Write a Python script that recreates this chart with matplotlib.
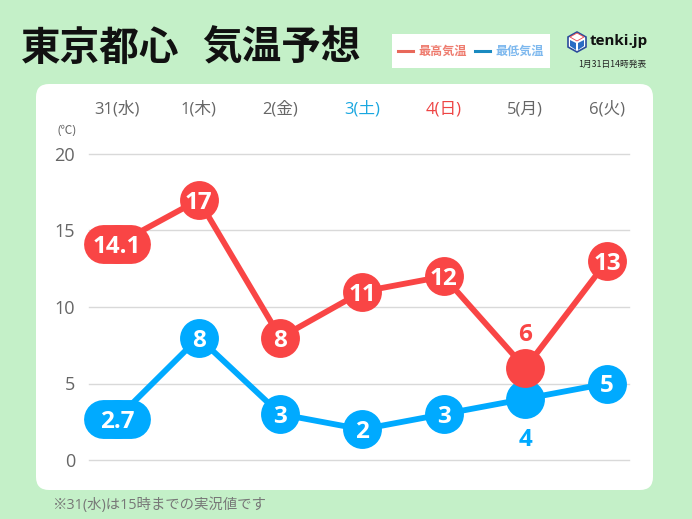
import matplotlib
matplotlib.use('Agg')
from matplotlib import pyplot as plt
from matplotlib.patches import FancyBboxPatch, Polygon, Rectangle

plt.rcParams['font.family'] = ['Open Sans', 'Noto Sans CJK JP']

days = ['31(水)', '1(木)', '2(金)', '3(土)', '4(日)', '5(月)', '6(火)']
day_colors = ['#666666', '#666666', '#666666', '#1AA7E0', '#EE4444', '#666666', '#666666']
high_temps = [14.1, 17, 8, 11, 12, 6, 13]
low_temps = [2.7, 8, 3, 2, 3, 4, 5]
high_labels = ['14.1', '17', '8', '11', '12', '6', '13']
low_labels = ['2.7', '8', '3', '2', '3', '4', '5']
y_ticks = [0, 5, 10, 15, 20]

RED = '#F94545'
BLUE = '#00AAFF'
GREEN = '#C4F0C8'
W, H = 692, 519

fig = plt.figure(figsize=(W / 100, H / 100), dpi=100, facecolor=GREEN)

# pixel coordinate layer for the decorations
bg = fig.add_axes([0, 0, 1, 1])
bg.set_xlim(0, W)
bg.set_ylim(H, 0)
bg.axis('off')

bg.add_patch(FancyBboxPatch((49, 97), 591, 380, boxstyle='round,pad=13,rounding_size=13',
                            facecolor='white', edgecolor='none'))
bg.text(21, 48, '東京都心', fontsize=28.5, fontweight='bold', color='#111111', va='center',
        family='Noto Sans CJK JP')
bg.text(202, 48, '気温予想', fontsize=28.5, fontweight='bold', color='#111111', va='center',
        family='Noto Sans CJK JP')

# legend
bg.add_patch(Rectangle((392, 34), 158, 34, facecolor='white', edgecolor='none'))
bg.plot([398, 413], [51, 51], color='#E8685A', lw=2.2)
bg.plot([475, 490], [51, 51], color='#1A8AC0', lw=2.2)
bg.text(418, 51, '最高気温', fontsize=8.7, fontweight='bold', color='#EE7B6E', va='center',
        family='Noto Sans CJK JP')
bg.text(495, 51, '最低気温', fontsize=8.7, fontweight='bold', color='#7DB8EE', va='center',
        family='Noto Sans CJK JP')

# logo
bg.add_patch(Polygon([(577, 32), (586, 37), (586, 47), (577, 52), (568, 47), (568, 37)],
                     facecolor='white', edgecolor='#2B4C9B', lw=1.2))
bg.add_patch(Polygon([(577, 33), (584, 37), (577, 41), (570, 37)], facecolor='white',
                     edgecolor='#E8454A', lw=0.6))
bg.add_patch(Polygon([(570, 40), (576, 43), (576, 50), (570, 46)], facecolor='#2B6CC4', edgecolor='none'))
bg.add_patch(Polygon([(584, 40), (578, 43), (578, 50), (584, 46)], facecolor='#2B6CC4', edgecolor='none'))
bg.text(590, 41, 'tenki.jp', fontsize=10.9, fontweight='bold', color='#111111', va='center')
bg.text(612, 64, '1月31日14時発表', fontsize=6.3, color='#222222', va='center', ha='center',
        family='Noto Sans CJK JP')

bg.text(52, 505, '※31(水)は15時までの実況値です', fontsize=10.4, color='#777777', va='center')

# chart
ax = fig.add_axes([89 / W, 1 - 460 / H, 540 / W, 306 / H])
ax.patch.set_alpha(0)
ax.set_xlim(-0.343, 6.27)
ax.set_ylim(0, 20)
for s in ax.spines.values():
    s.set_visible(False)
ax.set_yticks(y_ticks)
ax.set_yticklabels([str(t) for t in y_ticks], fontsize=13, color='#666666')
ax.tick_params(axis='y', length=0, pad=10)
ax.set_xticks(range(len(days)))
ax.set_xticklabels(days, fontsize=12)
ax.xaxis.tick_top()
ax.tick_params(axis='x', length=0, pad=26)
for lab, c in zip(ax.get_xticklabels(), day_colors):
    lab.set_color(c)
ax.grid(axis='y', color='#D9D9D9', lw=1.0, clip_on=False)
ax.set_axisbelow(True)

xs = list(range(len(days)))
for temps in (low_temps, high_temps):
    color = BLUE if temps is low_temps else RED
    ax.plot(xs, temps, color=color, lw=4.2, marker='o', ms=28, mew=0, clip_on=False,
            zorder=3 if temps is low_temps else 4)


def point_labels(temps, labels, color, outside, z):
    for x, t, lab in zip(xs, temps, labels):
        if lab == outside:
            off = 36 if color == RED else -38
            ax.annotate(lab, (x, t), xytext=(0, off * 0.72), textcoords='offset points',
                        ha='center', va='center_baseline', fontsize=17.5, fontweight='bold',
                        color=color, zorder=z)
            continue
        if '.' in lab:
            # decimal values sit in a pill instead of a circle
            ax.plot([x - 0.171, x + 0.171], [t, t], color=color, lw=28, solid_capstyle='round',
                    clip_on=False, zorder=z - 1)
        ax.annotate(lab, (x, t), ha='center', va='center_baseline', fontsize=17.5, fontweight='bold',
                    color='white', zorder=z)


point_labels(low_temps, low_labels, BLUE, '4', 5)
point_labels(high_temps, high_labels, RED, '6', 6)

bg.text(67, 131, '(℃)', fontsize=8.5, color='#666666', va='center', ha='center')

fig.savefig('out.png', dpi=100, facecolor=GREEN)
